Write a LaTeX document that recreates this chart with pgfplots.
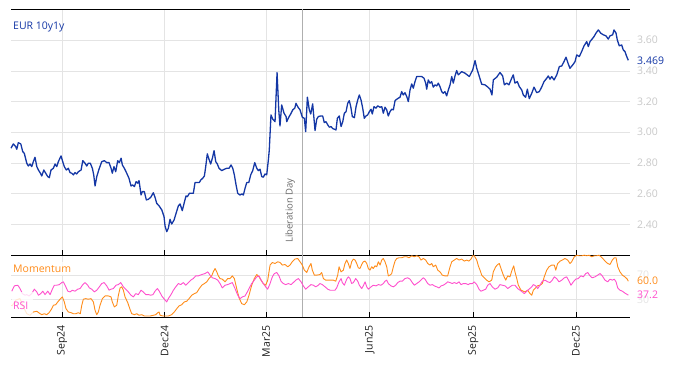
\documentclass[border=0pt]{standalone}
\usepackage{fontspec}
\setmainfont{Open Sans}
\usepackage{pgfplots}
\usepackage{pgfplotstable}
\pgfplotsset{compat=1.18}
\definecolor{eurblue}{RGB}{20,55,165}
\definecolor{momorange}{RGB}{255,140,26}
\definecolor{rsimag}{RGB}{255,80,205}
\definecolor{gridgray}{RGB}{228,228,228}
\definecolor{ticklab}{RGB}{200,200,200}
\definecolor{ticklablight}{RGB}{228,228,228}
\definecolor{libline}{RGB}{175,175,175}
\definecolor{libtext}{RGB}{105,105,105}
\definecolor{xlab}{RGB}{30,30,30}
\newcommand\tl{\fontsize{10.5}{12}\selectfont}

\pgfplotstableread{
x y
-45.3 2.896
-43.2 2.924
-41.1 2.906
-40.2 2.889
-38.8 2.932
-36.6 2.924
-34.9 2.874
-33.5 2.863
-31.3 2.798
-29.9 2.780
-28.4 2.793
-26.9 2.776
-25.5 2.808
-24.0 2.837
-22.4 2.776
-21.0 2.754
-19.5 2.737
-18.0 2.715
-16.2 2.754
-14.5 2.733
-12.7 2.711
-11.3 2.704
-9.8 2.754
-7.7 2.765
-6.2 2.793
-4.7 2.776
-3.3 2.808
-0.9 2.846
0.6 2.808
2.0 2.776
3.8 2.754
5.6 2.765
7.1 2.737
8.6 2.733
10.0 2.722
11.5 2.737
13.0 2.728
14.5 2.743
16.9 2.754
18.4 2.815
20.4 2.798
21.9 2.780
23.3 2.798
25.1 2.798
26.9 2.765
28.1 2.722
29.3 2.650
30.8 2.711
32.8 2.759
35.2 2.808
37.5 2.815
39.7 2.802
41.7 2.802
43.5 2.765
44.6 2.733
46.1 2.776
47.6 2.743
49.4 2.815
50.8 2.802
52.4 2.831
53.5 2.787
55.3 2.765
57.4 2.733
59.4 2.700
61.2 2.650
62.7 2.657
64.2 2.646
65.7 2.678
67.2 2.668
68.3 2.685
70.1 2.591
71.2 2.613
73.0 2.613
74.8 2.559
76.6 2.563
78.7 2.576
81.0 2.606
82.5 2.576
84.0 2.537
86.1 2.520
88.5 2.494
90.5 2.450
91.4 2.389
92.9 2.352
94.3 2.374
95.8 2.433
97.3 2.402
99.4 2.428
101.2 2.472
103.2 2.520
104.7 2.533
106.7 2.489
108.3 2.537
110.0 2.585
111.2 2.580
113.0 2.602
116.5 2.602
118.0 2.672
121.8 2.672
123.1 2.689
124.8 2.700
126.3 2.715
127.5 2.776
128.9 2.859
130.4 2.824
131.9 2.793
133.4 2.831
134.9 2.880
136.4 2.808
137.8 2.793
139.3 2.765
141.7 2.750
144.0 2.759
146.1 2.765
148.2 2.765
150.0 2.787
151.5 2.765
152.9 2.722
154.4 2.657
155.9 2.602
157.9 2.591
159.7 2.598
160.9 2.591
162.4 2.635
163.9 2.672
165.7 2.672
167.4 2.722
169.2 2.750
171.0 2.802
172.8 2.765
174.2 2.750
175.7 2.759
177.2 2.711
178.6 2.707
180.1 2.728
181.6 2.722
183.1 2.820
183.9 2.885
185.4 3.113
187.0 3.085
189.0 3.069
190.8 3.389
192.3 3.146
193.4 3.041
194.9 3.178
197.0 3.124
198.8 3.102
199.4 3.069
201.2 3.098
202.9 3.119
204.7 3.146
206.5 3.157
207.6 3.189
209.4 3.163
211.2 3.146
213.2 3.098
215.0 3.091
216.2 3.004
217.7 3.228
219.4 3.146
220.7 3.119
222.4 3.185
224.5 3.011
226.0 3.085
227.4 3.102
229.5 3.106
231.3 3.106
232.7 3.063
234.2 3.069
235.8 3.048
237.2 3.033
238.7 3.037
240.2 3.024
241.6 3.020
243.1 3.015
244.3 3.091
246.0 3.106
247.6 3.037
249.1 3.069
250.5 3.124
252.0 3.134
253.5 3.189
254.9 3.206
256.2 3.167
257.6 3.102
259.4 3.095
260.9 3.167
262.4 3.211
263.8 3.243
265.3 3.211
266.8 3.157
268.2 3.091
269.7 3.106
271.2 3.113
272.7 3.134
274.2 3.150
275.3 3.119
276.8 3.167
278.6 3.157
280.1 3.172
282.2 3.163
283.7 3.167
285.1 3.124
286.6 3.163
288.1 3.146
289.5 3.106
291.0 3.134
292.5 3.150
294.0 3.146
295.5 3.206
297.0 3.215
298.4 3.222
299.9 3.228
301.4 3.265
302.8 3.243
304.3 3.258
305.9 3.232
307.3 3.200
308.8 3.276
310.3 3.315
311.7 3.287
313.2 3.330
314.7 3.363
317.0 3.363
319.2 3.363
321.2 3.352
322.7 3.320
323.6 3.281
325.0 3.341
326.5 3.320
328.0 3.330
329.4 3.294
331.0 3.309
332.5 3.302
333.9 3.320
335.4 3.297
336.9 3.265
338.3 3.254
339.8 3.265
341.3 3.237
342.8 3.276
344.3 3.309
345.8 3.363
347.2 3.320
348.7 3.367
350.2 3.402
351.6 3.374
354.6 3.395
357.6 3.385
361.4 3.363
364.4 3.406
366.5 3.467
368.0 3.417
370.3 3.363
372.4 3.313
375.3 3.309
377.4 3.297
379.8 3.281
381.5 3.243
382.7 3.341
385.7 3.359
388.6 3.389
391.0 3.367
392.5 3.309
394.6 3.320
396.6 3.309
399.0 3.352
400.4 3.374
401.9 3.320
404.0 3.330
405.8 3.297
407.9 3.276
409.3 3.243
411.4 3.228
412.9 3.281
414.6 3.219
416.8 3.254
418.8 3.294
421.2 3.258
423.5 3.265
425.6 3.294
427.7 3.330
430.1 3.352
431.5 3.367
433.0 3.346
434.5 3.363
436.6 3.341
439.0 3.374
441.3 3.428
443.4 3.432
445.4 3.460
447.2 3.489
449.0 3.450
450.7 3.417
453.2 3.439
455.2 3.460
456.7 3.504
459.0 3.493
461.1 3.526
463.2 3.563
465.6 3.591
467.0 3.558
468.5 3.591
470.3 3.607
472.0 3.623
473.8 3.646
475.9 3.667
478.0 3.646
480.3 3.635
482.7 3.628
484.7 3.607
486.2 3.628
488.6 3.635
489.8 3.667
491.6 3.646
492.7 3.602
494.5 3.563
496.6 3.569
498.0 3.537
499.5 3.526
501.1 3.493
502.5 3.469
}\eurdata

\pgfplotstableread{
x y
-44.6 43.7
-42.3 52.4
-39.3 53.5
-37.3 48.0
-35.2 39.7
-32.8 37.1
-31.3 38.1
-29.3 35.9
-26.9 39.7
-24.6 47.0
-22.4 42.5
-21.0 37.1
-18.9 39.7
-17.1 43.7
-15.1 38.1
-12.7 43.7
-10.6 38.1
-8.6 47.0
-6.8 53.5
-4.7 53.5
-2.4 54.5
-0.3 57.8
1.2 59.0
2.7 53.5
5.1 43.7
7.1 42.5
9.1 45.3
11.5 43.7
13.9 47.0
16.0 48.0
18.0 53.5
20.4 57.8
22.8 53.5
24.2 49.1
26.4 47.0
28.7 42.5
30.8 45.3
33.1 50.8
35.2 56.2
37.3 57.8
39.7 52.4
41.7 45.3
43.5 47.0
45.5 48.0
47.9 53.5
50.0 54.5
52.1 57.8
54.4 50.8
56.5 47.0
58.8 42.5
61.2 37.1
63.3 34.3
65.4 39.7
67.7 38.1
70.1 45.3
72.1 42.5
74.3 38.1
76.6 38.1
78.7 37.1
80.7 38.1
82.5 43.7
84.6 48.0
86.3 43.7
88.5 35.9
90.8 30.5
92.9 26.1
94.3 31.5
96.7 38.1
98.8 45.3
100.9 50.8
103.2 56.2
105.3 54.5
107.6 57.8
109.8 53.5
112.1 57.8
114.2 61.8
116.5 64.4
118.6 68.8
120.9 68.8
124.0 71.0
126.9 72.6
129.3 75.4
131.3 70.0
133.4 65.6
135.8 64.4
138.2 61.8
140.2 56.2
142.2 49.1
144.6 53.5
147.0 54.5
149.1 56.2
151.1 57.8
153.5 48.0
155.9 37.1
157.9 31.5
160.0 34.3
162.4 35.9
164.4 42.5
166.2 49.1
168.3 56.2
170.6 61.8
172.8 67.2
174.8 68.8
176.6 61.8
178.6 56.2
180.7 50.8
182.5 47.0
184.6 56.2
186.6 67.2
188.4 72.6
190.5 74.3
192.5 68.8
194.3 60.1
196.4 56.2
198.5 54.5
200.8 56.2
203.2 54.5
205.2 57.8
207.4 61.8
209.7 64.4
212.1 59.0
214.1 52.4
216.2 47.0
218.5 50.8
220.9 54.5
223.0 53.5
225.1 50.8
227.4 53.5
228.9 56.2
231.0 54.5
233.4 50.8
235.8 47.0
237.8 45.3
239.8 45.3
242.2 45.3
243.7 49.1
245.8 59.0
247.6 64.4
248.7 57.8
250.5 53.5
252.6 63.4
254.0 67.2
255.5 64.4
257.0 56.2
258.5 57.8
260.6 64.4
262.4 60.1
263.8 53.5
265.9 48.0
267.3 52.4
268.9 59.0
270.4 50.8
271.8 47.0
274.2 50.8
276.2 53.5
278.6 52.4
280.7 54.5
283.0 53.5
285.1 56.2
286.6 60.1
288.1 61.8
289.5 56.2
291.9 52.4
294.0 50.8
296.1 53.5
297.9 57.8
299.9 60.1
302.0 60.1
304.3 64.4
306.7 65.6
308.8 63.4
310.8 57.8
312.6 53.5
314.7 56.2
316.8 59.0
319.2 63.4
320.6 65.6
322.1 63.4
324.5 56.2
326.5 53.5
328.6 54.5
330.3 52.4
332.5 50.8
334.5 49.1
336.3 52.4
338.3 53.5
340.5 56.2
342.2 59.0
344.3 57.8
346.3 56.2
348.1 57.8
350.2 56.2
352.3 59.0
354.0 54.5
356.1 56.2
358.2 56.2
360.5 54.5
362.0 56.2
364.1 56.2
365.8 59.0
368.0 54.5
370.0 47.0
371.8 43.7
373.8 45.3
376.0 47.0
377.7 53.5
379.8 56.2
381.8 50.8
384.2 47.0
386.6 49.1
388.6 54.5
390.7 53.5
393.1 52.4
395.5 48.0
397.5 50.8
399.6 53.5
401.9 53.5
404.3 48.0
406.4 45.3
408.4 42.5
410.2 39.7
412.3 43.7
414.4 47.0
416.8 50.8
418.2 54.5
420.3 52.4
422.1 48.0
424.1 53.5
426.2 60.1
428.6 61.8
431.0 59.0
433.0 57.8
435.0 61.8
436.8 67.2
438.9 64.4
441.0 59.0
443.4 61.8
445.7 65.6
447.8 67.2
449.9 60.1
451.6 53.5
453.7 59.0
455.8 63.4
458.1 64.4
460.5 68.8
462.6 67.2
464.7 72.6
466.5 74.3
468.5 68.8
470.5 65.6
472.9 67.2
475.3 70.0
477.4 72.6
479.4 68.8
481.8 61.8
484.2 59.0
486.2 63.4
488.3 61.8
490.1 63.4
491.6 59.0
493.1 49.1
495.1 45.3
497.2 43.7
499.5 40.5
502.5 37.2
}\rsidata

\pgfplotstableread{
x y
-44.4 19.5
-40.8 29.4
-37.3 31.5
-34.3 17.9
-31.3 6.8
-28.4 4.2
-25.5 9.6
-22.4 10.8
-20.4 8.0
-18.0 5.2
-15.7 6.8
-13.6 5.2
-11.5 8.5
-9.1 15.1
-7.7 20.6
-5.6 21.6
-3.8 26.1
-1.8 30.5
0.3 34.3
2.0 26.1
3.5 15.1
5.6 9.6
8.0 8.5
10.0 6.8
12.2 6.8
14.5 8.5
16.2 6.8
17.5 20.6
18.9 30.5
21.0 31.5
23.3 30.5
25.7 31.5
27.8 26.1
29.3 12.4
30.8 5.2
32.2 9.6
33.7 20.6
35.8 31.5
38.2 35.9
41.1 35.9
43.5 34.3
44.6 26.1
46.4 17.9
48.5 20.6
50.0 37.1
51.5 49.1
53.0 50.8
54.4 45.3
55.9 34.3
58.3 24.9
60.3 14.1
61.8 6.8
64.2 5.2
66.3 6.8
68.3 4.2
70.7 5.2
73.0 3.0
75.2 3.0
78.1 3.0
81.0 4.2
83.1 5.2
84.9 8.5
86.1 9.6
87.0 4.2
89.9 3.0
94.3 3.0
97.3 5.2
99.6 9.6
101.8 15.1
103.8 19.5
106.2 21.6
108.5 26.1
110.6 27.2
112.7 31.5
115.1 37.1
117.4 39.7
119.5 41.4
121.8 48.0
124.0 53.5
126.3 56.2
128.4 59.0
130.4 64.4
132.8 68.8
134.2 75.4
135.8 80.9
137.3 75.4
138.7 68.8
140.2 64.4
142.2 63.4
144.6 59.0
147.0 64.4
149.1 64.4
151.1 68.8
152.9 64.4
155.0 48.0
157.1 32.7
159.4 23.3
161.8 21.6
163.9 26.1
165.9 37.1
168.3 53.5
170.6 64.4
172.8 71.0
174.8 67.2
176.6 61.8
178.6 56.2
180.7 53.5
182.5 61.8
184.6 86.5
186.6 90.7
189.0 89.1
191.4 91.9
193.4 90.7
195.5 86.5
197.9 87.4
200.3 83.7
202.3 86.5
204.3 91.9
206.7 96.3
209.1 97.3
211.2 91.9
213.2 86.5
215.0 78.2
217.1 74.3
219.2 83.7
220.9 89.1
222.1 78.2
223.9 70.0
226.0 70.0
228.9 71.0
230.4 74.3
231.9 64.4
234.0 61.8
236.3 61.8
238.7 61.8
240.7 61.8
242.9 60.1
244.6 70.0
245.8 83.7
247.6 75.4
249.6 78.2
251.1 89.1
252.6 94.7
254.0 89.1
255.5 80.9
257.0 91.9
258.5 96.3
260.0 94.7
261.5 89.1
262.9 82.0
264.4 80.9
265.9 87.4
267.3 91.9
268.9 93.0
270.4 89.1
271.8 80.9
273.3 78.2
274.8 83.7
276.2 80.9
277.7 85.3
279.2 83.7
280.7 91.9
282.2 86.5
283.7 94.7
285.1 97.3
286.6 91.9
288.1 83.7
289.5 68.8
291.0 70.0
292.5 72.6
294.0 83.7
295.5 93.0
297.0 97.3
299.0 98.5
301.4 98.5
303.7 100.1
305.9 100.1
307.9 98.5
310.3 101.7
312.6 100.1
314.7 101.7
316.8 100.1
318.5 94.7
320.6 97.3
322.7 94.7
324.5 89.1
326.5 86.5
328.0 89.1
329.4 83.7
331.6 86.5
333.4 78.2
335.4 75.4
337.4 70.0
339.8 68.8
342.2 68.8
344.3 83.7
345.8 91.9
348.1 94.7
350.2 97.3
352.3 94.7
354.6 96.3
357.0 93.0
359.1 94.7
361.1 93.0
362.9 96.3
364.4 101.7
365.8 101.7
368.0 94.7
369.4 85.3
370.9 78.2
372.4 70.0
374.7 65.6
376.8 61.8
378.9 59.0
381.3 61.8
382.7 75.4
384.8 83.7
386.6 87.4
388.0 89.1
389.5 80.9
391.6 70.0
393.7 61.8
395.5 68.8
397.5 67.2
399.0 76.6
400.8 85.3
401.9 75.4
403.5 64.4
404.9 53.5
407.3 45.3
409.3 43.7
410.8 42.5
413.2 45.3
415.3 39.7
416.8 37.1
418.2 45.3
419.7 48.0
421.7 52.4
424.1 53.5
426.2 56.2
427.9 67.2
430.1 78.2
432.1 83.7
434.5 86.5
436.8 86.5
438.1 78.2
439.8 89.1
441.9 93.0
443.9 94.7
446.3 97.3
448.7 94.7
450.7 89.1
452.2 91.9
454.6 100.1
456.7 102.7
458.7 101.7
461.1 101.7
463.4 102.7
465.6 101.7
467.6 102.7
470.0 100.1
472.3 101.7
474.4 101.7
476.5 102.7
478.3 100.1
480.3 96.3
482.4 91.9
484.2 89.1
486.2 87.4
488.3 94.7
490.1 98.5
491.6 98.5
493.1 83.7
495.1 75.4
497.2 70.0
499.5 67.2
501.6 63.4
502.5 60.0
}\momdata

\pgfplotsset{
  panel/.style={
    scale only axis, width=619pt,
    xmin=-45.3, xmax=504,
    clip=false,
    separate axis lines,
    y axis line style={draw=none},
    x axis line style={black, line width=0.8pt},
    xtick={0,91,181,273,365,456},
    xtick pos=left,
    major tick length=5pt,
    xtick style={black, line width=0.8pt},
    ytick style={draw=none},
    yticklabel pos=right,
    grid=major,
    grid style={gridgray, line width=0.6pt},
    tick label style={font=\tl},
    yticklabel style={anchor=west, xshift=3.5pt, text=ticklab},
    /pgf/number format/assume math mode=true,
    line join=round,
  }
}

\begin{document}
\begin{tikzpicture}
\useasboundingbox (0,0) rectangle (674pt,-366pt);

\begin{axis}[panel, at={(11pt,-9.5pt)}, anchor=north west, height=245.5pt,
  ymin=2.2, ymax=3.8,
  ytick={2.4,2.6,2.8,3.0,3.2,3.4,3.6},
  yticklabel style={/pgf/number format/fixed, /pgf/number format/fixed zerofill, /pgf/number format/precision=2},
  xticklabels={}]
\draw[libline, line width=0.8pt] (axis cs:213,2.2) -- (axis cs:213,3.8);
\addplot[eurblue, line width=1.3pt, mark=none] table[x=x,y=y] {\eurdata};
\node[xshift=-7pt, rotate=90, anchor=south west, inner sep=0pt, text=libtext, font=\fontsize{9.5}{10}\selectfont] at (axis cs:213,2.279) {Liberation Day};
\node[anchor=west, inner sep=0pt, xshift=7pt, text=eurblue, font=\tl] at (axis cs:504,3.469) {3.469};
\end{axis}

\begin{axis}[panel, at={(11pt,-255pt)}, anchor=north west, height=62pt,
  ymin=1.4, ymax=103,
  ytick={30,70},
  yticklabel style={text=ticklablight},
  xticklabels={Sep24,Dec24,Mar25,Jun25,Sep25,Dec25},
  xticklabel shift=5pt,
  xticklabel style={rotate=90, anchor=east, text=xlab, font=\fontsize{10.5}{12}\selectfont}]
\draw[libline, line width=0.8pt] (axis cs:213,1.4) -- (axis cs:213,103);
\addplot[momorange, line width=0.9pt, mark=none] table[x=x,y=y] {\momdata};
\addplot[rsimag, line width=0.9pt, mark=none] table[x=x,y=y] {\rsidata};
\node[anchor=west, inner sep=0pt, xshift=7pt, text=momorange, font=\tl] at (axis cs:504,60.0) {60.0};
\node[anchor=west, inner sep=0pt, xshift=7pt, text=rsimag, font=\tl] at (axis cs:504,37.2) {37.2};
\end{axis}

\node[anchor=base west, inner sep=0pt, text=eurblue, font=\tl] at (13pt,-29.5pt) {EUR 10y1y};
\fill[white, opacity=0.8] (11.5pt,-262pt) rectangle (74pt,-275pt);
\node[anchor=base west, inner sep=0pt, text=momorange, font=\tl] at (13pt,-272pt) {Momentum};
\fill[white, opacity=0.8] (11.5pt,-292pt) rectangle (33pt,-316pt);
\node[anchor=base west, inner sep=0pt, text=rsimag, font=\tl] at (13pt,-309.5pt) {RSI};
\end{tikzpicture}
\end{document}
